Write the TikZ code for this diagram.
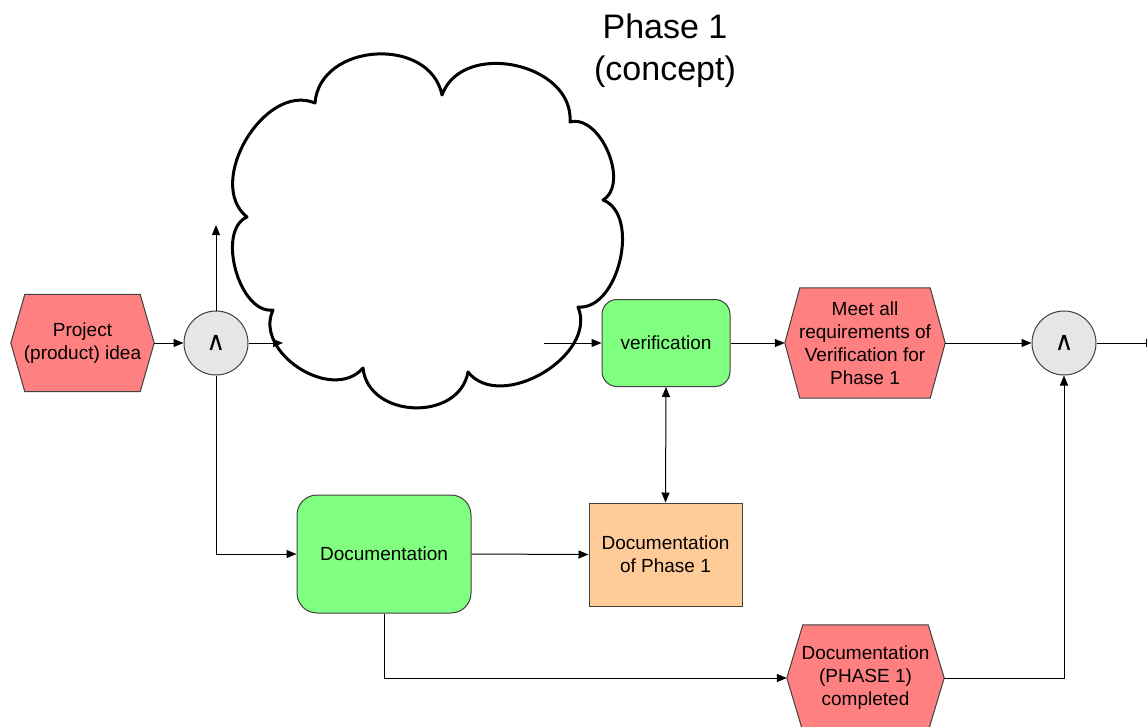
\documentclass[tikz,border=0pt]{standalone}
\usepackage{fontspec}
\setmainfont{Liberation Sans}
\newfontfamily\symfont{DejaVu Sans}
\usetikzlibrary{arrows.meta,backgrounds,calc}
\definecolor{evtred}{HTML}{FF8080}
\definecolor{funcgreen}{HTML}{80FF80}
\definecolor{docorange}{HTML}{FFCC99}
\definecolor{andgray}{HTML}{E6E6E6}
\definecolor{bordergray}{HTML}{404040}
\newcommand{\hexfill}[2]{\path[evtshape] (#1.west) -- ([xshift=#2]#1.north west) -- ([xshift=-#2]#1.north east) -- (#1.east) -- ([xshift=-#2]#1.south east) -- ([xshift=#2]#1.south west) -- cycle;}
\tikzset{
  txt/.style={font=\fontsize{19}{23}\selectfont, align=center, inner sep=0pt},
  evtbox/.style={txt},
  evtshape/.style={fill=evtred, draw=bordergray, line width=1pt},
  func/.style={txt, fill=funcgreen, draw=bordergray, line width=1pt},
  andop/.style={circle, fill=andgray, draw=bordergray, line width=1pt, minimum size=64pt, inner sep=0pt, font=\symfont\fontsize{26}{30}\selectfont},
  conn/.style={line width=1pt, -{Triangle[length=10pt,width=8pt]}},
  dconn/.style={line width=1pt, {Triangle[length=10pt,width=8pt]}-{Triangle[length=10pt,width=8pt]}},
  cloudline/.style={line width=3pt, fill=white, line join=round},
  bump/.style={bend left=82, looseness=#1}
}
\begin{document}
\begin{tikzpicture}[x=1pt,y=-1pt]
\useasboundingbox (0,0) rectangle (1147,726);
% cloud
\draw[cloudline] (315,103)
  to[bump=1.22] (442,95)
  to[bump=1.16] (570,122)
  to[bump=0.95] (603,200)
  to[bump=0.95] (578,307)
  to[bump=1.05] (468,372)
  to[bump=1.24] (363,368)
  to[bump=1.12] (273,310)
  to[bump=0.9] (247,217)
  to[bump=1.05] cycle;
% title
\node[font=\fontsize{34}{42}\selectfont, align=center, inner sep=0pt] (title) at (665,51) {Phase 1\\(concept)};
% nodes
\node[evtbox, minimum width=143pt, minimum height=97pt] (idea) at (82.5,343) {Project\\(product) idea};
\node[andop] (and1) at (216,343) {∧};
\node[func, minimum width=128pt, minimum height=87pt, rounded corners=15pt] (verif) at (666,343) {verification};
\node[evtbox, minimum width=160pt, minimum height=110pt] (meet) at (865,343) {Meet all\\requirements of\\Verification for\\Phase 1};
\node[andop] (and2) at (1064,343) {∧};
\node[func, minimum width=174pt, minimum height=118pt, rounded corners=20pt] (doc) at (384,554) {Documentation};
\node[txt, fill=docorange, draw=bordergray, line width=1pt, minimum width=153pt, minimum height=103pt] (docp) at (665.5,554.5) {Documentation\\of Phase 1};
\node[evtbox, minimum width=157pt, minimum height=106pt] (comp) at (865.5,678) {Documentation\\(PHASE 1)\\completed};
\begin{scope}[on background layer]
\hexfill{idea}{14pt}
\hexfill{meet}{15pt}
\hexfill{comp}{16pt}
\end{scope}
% free ends
\coordinate (up) at (216,225);
\coordinate (cin) at (283,343);
\coordinate (cout) at (544,343);
\coordinate (out) at (1156,343);
% connectors
\draw[conn] (idea.east) -- (and1.west);
\draw[conn] (and1.north) -- (up);
\draw[conn] (and1.east) -- (cin);
\draw[conn] (cout) -- (verif.west);
\draw[conn] (and1.south) |- (doc.west);
\draw[conn] (doc.east) -- (docp.west);
\draw[dconn] (verif.south) -- (docp.north);
\draw[conn] (verif.east) -- (meet.west);
\draw[conn] (meet.east) -- (and2.west);
\draw[conn] (and2.east) -- (out);
\draw[conn] (doc.south) |- (comp.west);
\draw[conn] (comp.east) -| (and2.south);
\end{tikzpicture}
\end{document}
